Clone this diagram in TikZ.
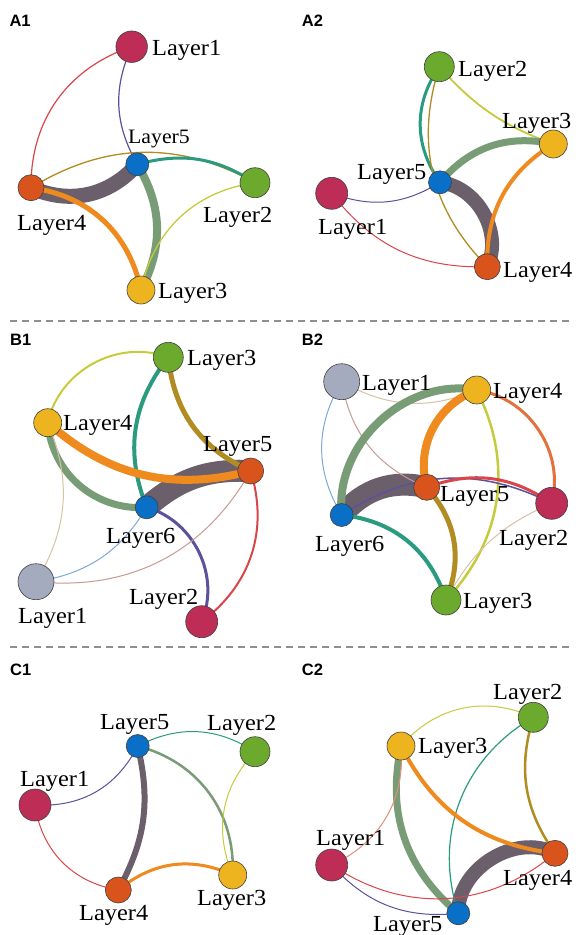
\documentclass[tikz,border=0pt]{standalone}
\usepackage{fontspec}
\setmainfont{Liberation Serif}
\newfontfamily\panelfont{Liberation Sans}
\usetikzlibrary{backgrounds}
\definecolor{cCrim}{HTML}{BD2D56}
\definecolor{cBlue}{HTML}{0A6FC6}
\definecolor{cOrg}{HTML}{D9541C}
\definecolor{cGrn}{HTML}{6BAA2C}
\definecolor{cYel}{HTML}{EDB41F}
\definecolor{cGray}{HTML}{A4ABBE}
\definecolor{eRed}{HTML}{D9464A}
\definecolor{ePur}{HTML}{5B519C}
\definecolor{eDark}{HTML}{6B5F6C}
\definecolor{eGold}{HTML}{B08C22}
\definecolor{eTeal}{HTML}{2A9B7F}
\definecolor{eSage}{HTML}{789C76}
\definecolor{eOrg}{HTML}{EE8A1E}
\definecolor{eLime}{HTML}{C6CB3C}
\definecolor{eTan}{HTML}{D9C2A4}
\definecolor{eSky}{HTML}{7EA9D6}
\definecolor{eRose}{HTML}{C99A92}
\definecolor{eCoral}{HTML}{E2713C}
\definecolor{eSalm}{HTML}{E0907A}
\definecolor{dashc}{HTML}{8E8E8E}
\begin{document}
\begin{tikzpicture}[x=1pt,y=1pt,
  nd/.style={circle, draw=black!75, line width=0.6pt, inner sep=0pt, minimum size=#1},
  lab/.style={inner sep=0pt, anchor=base west, font=\fontsize{23}{23}\selectfont, xscale=1.06},
  ptl/.style={inner sep=0pt, anchor=base west, font=\panelfont\bfseries\fontsize{16.5}{16.5}\selectfont},
  sep/.style={dashc, line width=1.6pt, dash pattern=on 7pt off 5pt},
  ed/.style={line width=#1, line cap=butt}]
\useasboundingbox (0,0) rectangle (576,-935);

% panel titles
\node[ptl] (tA1) at (9.3,-26.7) {A1};
\node[ptl] (tA2) at (301.7,-26.7) {A2};
\node[ptl] (tB1) at (10,-345) {B1};
\node[ptl] (tB2) at (301.7,-345) {B2};
\node[ptl] (tC1) at (10,-675.7) {C1};
\node[ptl] (tC2) at (301.7,-675) {C2};

% separators
\coordinate (d1a) at (10,-321); \coordinate (d1b) at (572,-321);
\coordinate (d2a) at (10,-647); \coordinate (d2b) at (572,-647);
\draw[sep] (d1a) -- (d1b);
\draw[sep] (d2a) -- (d2b);

% ---------- A1 ----------
\node[nd=31.5pt, fill=cCrim] (a1n1) at (131.7,-46.7) {};
\node[nd=23pt, fill=cBlue] (a1n5) at (137.3,-164.3) {};
\node[nd=26pt, fill=cOrg] (a1n4) at (31,-187.7) {};
\node[nd=30pt, fill=cGrn] (a1n2) at (255,-182.7) {};
\node[nd=28pt, fill=cYel] (a1n3) at (141,-290) {};
\node[lab] (a1t1) at (152,-55) {Layer1};
\node[lab, font=\fontsize{20.5}{20.5}\selectfont] (a1t5) at (128,-143) {Layer5};
\node[lab] (a1t4) at (17,-230) {Layer4};
\node[lab] (a1t2) at (203,-222) {Layer2};
\node[lab] (a1t3) at (158,-298) {Layer3};

% ---------- A2 ----------
\node[nd=30pt, fill=cGrn] (a2n2) at (439.3,-66.7) {};
\node[nd=28pt, fill=cYel] (a2n3) at (553.3,-144) {};
\node[nd=23pt, fill=cBlue] (a2n5) at (440,-182.3) {};
\node[nd=32pt, fill=cCrim] (a2n1) at (331.7,-193.3) {};
\node[nd=26pt, fill=cOrg] (a2n4) at (487.3,-266.7) {};
\node[lab] (a2t2) at (458,-76) {Layer2};
\node[lab] (a2t3) at (502,-128) {Layer3};
\node[lab] (a2t5) at (357,-179) {Layer5};
\node[lab] (a2t1) at (318,-234) {Layer1};
\node[lab] (a2t4) at (503,-277) {Layer4};

% ---------- B1 ----------
\node[nd=30pt, fill=cGrn] (b1n3) at (168.3,-357.3) {};
\node[nd=28pt, fill=cYel] (b1n4) at (47.7,-422.7) {};
\node[nd=26pt, fill=cOrg] (b1n5) at (250.7,-471) {};
\node[nd=23pt, fill=cBlue] (b1n6) at (146.7,-507.3) {};
\node[nd=36pt, fill=cGray] (b1n1) at (36,-581.7) {};
\node[nd=32pt, fill=cCrim] (b1n2) at (201.7,-621.7) {};
\node[lab] (b1t3) at (187,-365) {Layer3};
\node[lab] (b1t4) at (63,-430.5) {Layer4};
\node[lab] (b1t5) at (203,-451.7) {Layer5};
\node[lab] (b1t6) at (106,-543) {Layer6};
\node[lab] (b1t1) at (18,-623) {Layer1};
\node[lab] (b1t2) at (129,-604) {Layer2};

% ---------- B2 ----------
\node[nd=36pt, fill=cGray] (b2n1) at (341.7,-381.7) {};
\node[nd=28pt, fill=cYel] (b2n4) at (476.7,-390) {};
\node[nd=26pt, fill=cOrg] (b2n5) at (426.7,-487.3) {};
\node[nd=32pt, fill=cCrim] (b2n2) at (551.7,-503.3) {};
\node[nd=23pt, fill=cBlue] (b2n6) at (341.7,-515) {};
\node[nd=30pt, fill=cGrn] (b2n3) at (446,-600) {};
\node[lab] (b2t1) at (362,-390) {Layer1};
\node[lab] (b2t4) at (493,-398) {Layer4};
\node[lab] (b2t5) at (440,-501.7) {Layer5};
\node[lab] (b2t2) at (499,-545) {Layer2};
\node[lab] (b2t6) at (315,-551.7) {Layer6};
\node[lab] (b2t3) at (463,-608) {Layer3};

% ---------- C1 ----------
\node[nd=23pt, fill=cBlue] (c1n5) at (137.7,-746) {};
\node[nd=30pt, fill=cGrn] (c1n2) at (255,-751.7) {};
\node[nd=32pt, fill=cCrim] (c1n1) at (35,-805) {};
\node[nd=28pt, fill=cYel] (c1n3) at (232.7,-875) {};
\node[nd=26pt, fill=cOrg] (c1n4) at (118.3,-890) {};
\node[lab] (c1t5) at (100,-729) {Layer5};
\node[lab] (c1t2) at (207,-730) {Layer2};
\node[lab] (c1t1) at (20,-786) {Layer1};
\node[lab] (c1t3) at (197,-905) {Layer3};
\node[lab] (c1t4) at (79,-920) {Layer4};

% ---------- C2 ----------
\node[nd=30pt, fill=cGrn] (c2n2) at (533.3,-717.3) {};
\node[nd=28pt, fill=cYel] (c2n3) at (401,-746) {};
\node[nd=32pt, fill=cCrim] (c2n1) at (331.7,-865) {};
\node[nd=26pt, fill=cOrg] (c2n4) at (555,-853.3) {};
\node[nd=23pt, fill=cBlue] (c2n5) at (458.3,-913.3) {};
\node[lab] (c2t2) at (493,-699) {Layer2};
\node[lab] (c2t3) at (418,-753) {Layer3};
\node[lab] (c2t1) at (316,-845) {Layer1};
\node[lab] (c2t4) at (503,-885) {Layer4};
\node[lab] (c2t5) at (373,-931.7) {Layer5};

\begin{scope}[on background layer]
\fill[white] (0,0) rectangle (576,-935);
% A1
\draw[eDark, ed=15pt] (a1n4.center) to[bend right=36] (a1n5.center);
\draw[eRed, ed=1.2pt] (a1n1.center) to[bend right=36] (a1n4.center);
\draw[ePur, ed=1.2pt] (a1n1.center) to[bend right=27] (a1n5.center);
\draw[eGold, ed=1.3pt] (a1n4.center) to[bend left=30] (a1n2.center);
\draw[eTeal, ed=3pt] (a1n5.center) to[bend left=24] (a1n2.center);
\draw[eSage, ed=8pt] (a1n5.center) to[bend left=29] (a1n3.center);
\draw[eOrg, ed=5pt] (a1n4.center) to[bend left=35] (a1n3.center);
\draw[eLime, ed=1.3pt] (a1n2.center) to[bend right=35] (a1n3.center);
% A2
\draw[eDark, ed=14pt] (a2n5.center) to[bend left=54] (a2n4.center);
\draw[eTeal, ed=3pt] (a2n2.center) to[bend right=35] (a2n5.center);
\draw[eGold, ed=1.3pt] (a2n2.center) to[bend right=31] (a2n4.center);
\draw[eLime, ed=1.8pt] (a2n2.center) to[bend right=14] (a2n3.center);
\draw[eSage, ed=7pt] (a2n5.center) to[bend left=31] (a2n3.center);
\draw[eOrg, ed=4pt] (a2n3.center) to[bend right=30] (a2n4.center);
\draw[ePur, ed=1pt] (a2n1.center) to[bend right=26] (a2n5.center);
\draw[eRed, ed=1pt] (a2n1.center) to[bend right=27] (a2n4.center);
% B1
\draw[eDark, ed=22pt] (b1n6.center) to[bend left=22] (b1n5.center);
\draw[eLime, ed=2pt] (b1n4.center) to[bend left=49] (b1n3.center);
\draw[eTeal, ed=4pt] (b1n3.center) to[bend right=30] (b1n6.center);
\draw[eGold, ed=5pt] (b1n3.center) to[bend right=30] (b1n5.center);
\draw[eSage, ed=7pt] (b1n4.center) to[bend right=45] (b1n6.center);
\draw[eOrg, ed=8pt] (b1n4.center) to[bend right=28] (b1n5.center);
\draw[ePur, ed=3pt] (b1n6.center) to[bend left=48] (b1n2.center);
\draw[eRed, ed=2pt] (b1n5.center) to[bend left=35] (b1n2.center);
\draw[eTan, ed=1pt] (b1n1.center) to[bend right=27] (b1n4.center);
\draw[eSky, ed=1pt] (b1n1.center) to[bend right=25] (b1n6.center);
\draw[eRose, ed=1pt] (b1n1.center) to[bend right=33] (b1n5.center);
% B2
\draw[eDark, ed=22pt] (b2n6.center) to[bend left=31] (b2n5.center);
\draw[eSky, ed=1pt] (b2n1.center) to[bend right=31] (b2n6.center);
\draw[eTan, ed=1pt] (b2n1.center) to[bend right=26] (b2n4.center);
\draw[eRose, ed=1pt] (b2n1.center) to[bend right=29] (b2n5.center);
\draw[eSage, ed=8pt] (b2n6.center) to[bend left=53] (b2n4.center);
\draw[eOrg, ed=8pt] (b2n4.center) to[bend right=42] (b2n5.center);
\draw[eCoral, ed=3pt] (b2n4.center) to[bend left=48] (b2n2.center);
\draw[eLime, ed=2.5pt] (b2n4.center) to[bend left=35] (b2n3.center);
\draw[ePur, ed=1.5pt] (b2n6.center) to[bend left=30] (b2n2.center);
\draw[eRed, ed=3pt] (b2n5.center) to[bend left=27] (b2n2.center);
\draw[eTeal, ed=4pt] (b2n6.center) to[bend left=33] (b2n3.center);
\draw[eGold, ed=5pt] (b2n5.center) to[bend left=32] (b2n3.center);
\draw[eTan, ed=1pt] (b2n2.center) to[bend right=19] (b2n3.center);
% C1
\draw[eDark, ed=6pt] (c1n5.center) to[bend left=21] (c1n4.center);
\draw[eTeal, ed=1pt] (c1n5.center) to[bend left=30] (c1n2.center);
\draw[ePur, ed=1pt] (c1n5.center) to[bend left=33] (c1n1.center);
\draw[eSage, ed=2.5pt] (c1n5.center) to[bend left=39] (c1n3.center);
\draw[eLime, ed=1pt] (c1n2.center) to[bend right=33] (c1n3.center);
\draw[eRed, ed=1pt] (c1n1.center) to[bend right=36] (c1n4.center);
\draw[eOrg, ed=3pt] (c1n4.center) to[bend left=32] (c1n3.center);
% C2
\draw[eDark, ed=14pt] (c2n4.center) to[bend right=60] (c2n5.center);
\draw[eLime, ed=1pt] (c2n3.center) to[bend left=37] (c2n2.center);
\draw[eTeal, ed=1.2pt] (c2n2.center) to[bend right=39] (c2n5.center);
\draw[eGold, ed=2.5pt] (c2n2.center) to[bend right=26] (c2n4.center);
\draw[eOrg, ed=4pt] (c2n3.center) to[bend right=28] (c2n4.center);
\draw[eSage, ed=7pt] (c2n3.center) to[bend right=31] (c2n5.center);
\draw[eSalm, ed=1pt] (c2n3.center) to[bend left=35] (c2n1.center);
\draw[eRed, ed=1pt] (c2n1.center) to[bend right=37] (c2n4.center);
\draw[ePur, ed=1pt] (c2n1.center) to[bend right=27] (c2n5.center);
\end{scope}
\end{tikzpicture}
\end{document}
